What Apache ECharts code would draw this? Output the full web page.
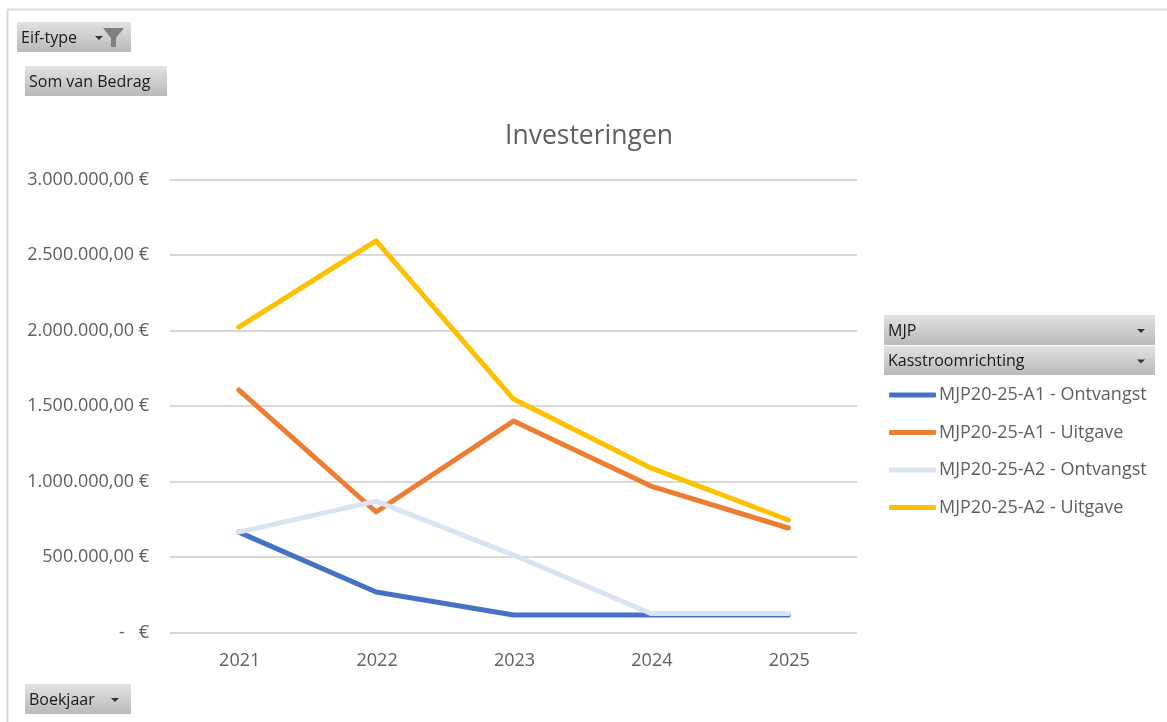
<!DOCTYPE html>
<html>
<head>
<meta charset="utf-8">
<title>Investeringen</title>
<script src="https://cdn.jsdelivr.net/npm/echarts@6/dist/echarts.min.js"></script>
<style>
  html, body { margin: 0; padding: 0; background: #fff; }
  #chart { width: 1167px; height: 722px; }
</style>
</head>
<body>
<div id="chart"></div>
<script>
const years = ["2021", "2022", "2023", "2024", "2025"];
const a1Ontvangst = [665000, 268000, 116000, 116000, 116000];
const a1Uitgave = [1606000, 798000, 1400000, 970000, 692000];
const a2Ontvangst = [665000, 870000, 513000, 126000, 126000];
const a2Uitgave = [2023000, 2593000, 1546000, 1090000, 745000];
const yTickLabels = ["-   €", "500.000,00 €", "1.000.000,00 €", "1.500.000,00 €", "2.000.000,00 €", "2.500.000,00 €", "3.000.000,00 €"];

const FONT = "'Open Sans', 'Noto Sans', sans-serif";
const TEXT_GREY = "#5f5f5f";

// grijze veldknoppen van de draaigrafiek
function fieldButton(x, y, w, h, label, arrowX) {
  const items = [
    {
      type: "rect",
      shape: { x: x, y: y, width: w, height: h },
      style: {
        fill: new echarts.graphic.LinearGradient(0, 0, 0, 1, [
          { offset: 0, color: "#e2e2e2" },
          { offset: 1, color: "#b9b9b9" },
        ]),
      },
    },
    {
      type: "text",
      style: {
        x: x + 4,
        y: y + h / 2 + 1,
        text: label,
        fill: "#1a1a1a",
        font: "16px " + FONT,
        verticalAlign: "middle",
      },
    },
  ];
  if (arrowX) {
    items.push({
      type: "polygon",
      shape: { points: [[arrowX - 4, y + h / 2 - 1], [arrowX + 4, y + h / 2 - 1], [arrowX, y + h / 2 + 3]] },
      style: { fill: "#333" },
    });
  }
  return items;
}

const graphicItems = [
  // kader
  { type: "line", shape: { x1: 7, y1: 9.5, x2: 1167, y2: 9.5 }, style: { stroke: "#d9d9d9", lineWidth: 2 } },
  { type: "line", shape: { x1: 7.5, y1: 9, x2: 7.5, y2: 722 }, style: { stroke: "#d9d9d9", lineWidth: 2 } },
]
  .concat(fieldButton(17, 22, 114, 30, "Eif-type", 99))
  .concat([
    {
      type: "polygon",
      shape: { points: [[103, 28], [124, 28], [116, 38], [116, 47], [111, 47], [111, 38]] },
      style: { fill: "#7f7f7f" },
    },
  ])
  .concat(fieldButton(25, 66, 142, 30, "Som van Bedrag"))
  .concat(fieldButton(25, 684, 106, 30, "Boekjaar", 115))
  .concat(fieldButton(884, 315, 271, 30, "MJP", 1141))
  .concat(fieldButton(884, 346, 271, 29, "Kasstroomrichting", 1141));

const chart = echarts.init(document.getElementById("chart"));
chart.setOption({
  animation: false,
  backgroundColor: "#fff",
  textStyle: { fontFamily: FONT },
  title: {
    text: "Investeringen",
    left: 584,
    top: 118,
    textAlign: "center",
    textStyle: { color: TEXT_GREY, fontSize: 26.5, fontWeight: "normal", fontFamily: FONT },
  },
  grid: { left: 170, right: 310, top: 179.5, height: 453 },
  legend: {
    orient: "vertical",
    left: 884,
    top: 381,
    icon: "roundRect",
    itemWidth: 47,
    itemHeight: 5,
    itemGap: 19.5,
    textStyle: { color: TEXT_GREY, fontSize: 18, fontFamily: FONT, padding: [0, 0, 0, -2] },
    data: ["MJP20-25-A1 - Ontvangst", "MJP20-25-A1 - Uitgave", "MJP20-25-A2 - Ontvangst", "MJP20-25-A2 - Uitgave"],
  },
  xAxis: {
    type: "category",
    data: years,
    boundaryGap: true,
    axisTick: { show: false },
    axisLine: { show: false },
    axisLabel: { color: TEXT_GREY, fontSize: 18, margin: 19, fontFamily: FONT, padding: [0, 0, 0, 2] },
  },
  yAxis: {
    type: "value",
    min: 0,
    max: 3000000,
    interval: 500000,
    axisLine: { show: false },
    axisTick: { show: false },
    splitLine: { lineStyle: { color: "#d9d9d9", width: 2 } },
    axisLabel: {
      color: TEXT_GREY,
      fontSize: 18,
      margin: 21,
      fontFamily: FONT,
      formatter: (value) => yTickLabels[value / 500000],
    },
  },
  series: [
    { name: "MJP20-25-A1 - Ontvangst", data: a1Ontvangst, color: "#4472c4" },
    { name: "MJP20-25-A1 - Uitgave", data: a1Uitgave, color: "#ed7d31" },
    { name: "MJP20-25-A2 - Ontvangst", data: a2Ontvangst, color: "#dae3f3" },
    { name: "MJP20-25-A2 - Uitgave", data: a2Uitgave, color: "#ffc000" },
  ].map((s) => ({
    name: s.name,
    type: "line",
    data: s.data,
    symbol: "none",
    itemStyle: { color: s.color },
    lineStyle: { color: s.color, width: 5, cap: "round", join: "round" },
  })),
  graphic: graphicItems,
});
</script>
</body>
</html>
